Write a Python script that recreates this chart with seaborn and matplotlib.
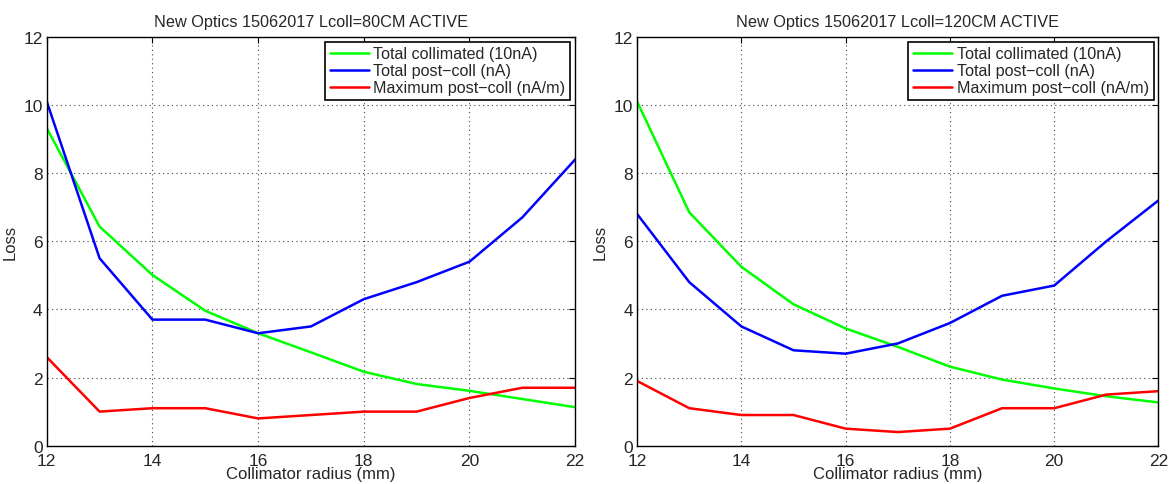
import matplotlib
matplotlib.use("Agg")
import matplotlib.pyplot as plt
import seaborn as sns
import pandas as pd

radius = [12, 13, 14, 15, 16, 17, 18, 19, 20, 21, 22]
series_names = ["Total collimated (10nA)", "Total post\u2212coll (nA)", "Maximum post\u2212coll (nA/m)"]
colors = ["#00ff00", "#0000ff", "#ff0000"]

# Lcoll = 80 cm
coll_80 = [9.32, 6.43, 5.01, 3.96, 3.30, 2.74, 2.17, 1.81, 1.61, 1.37, 1.13]
post_80 = [10.1, 5.5, 3.7, 3.7, 3.3, 3.5, 4.3, 4.8, 5.4, 6.7, 8.4]
max_80 = [2.6, 1.0, 1.1, 1.1, 0.8, 0.9, 1.0, 1.0, 1.4, 1.7, 1.7]

# Lcoll = 120 cm
coll_120 = [10.1, 6.85, 5.25, 4.15, 3.44, 2.9, 2.32, 1.94, 1.68, 1.45, 1.27]
post_120 = [6.8, 4.8, 3.5, 2.8, 2.7, 3.0, 3.6, 4.4, 4.7, 6.0, 7.2]
max_120 = [1.9, 1.1, 0.9, 0.9, 0.5, 0.4, 0.5, 1.1, 1.1, 1.5, 1.6]

titles = ["New Optics 15062017 Lcoll=80CM ACTIVE", "New Optics 15062017 Lcoll=120CM ACTIVE"]


def make_df(coll, post, mx):
    rows = []
    for name, vals in zip(series_names, [coll, post, mx]):
        for r, v in zip(radius, vals):
            rows.append({"radius": r, "loss": v, "series": name})
    return pd.DataFrame(rows)


sns.set_style("white")
plt.rcParams["font.family"] = ["Liberation Sans", "DejaVu Sans"]

fig = plt.figure(figsize=(11.69, 4.85), dpi=100)
ax1 = fig.add_axes([0.040, 0.079, 0.452, 0.843])
ax2 = fig.add_axes([0.545, 0.079, 0.446, 0.843])

datasets = [make_df(coll_80, post_80, max_80), make_df(coll_120, post_120, max_120)]

for ax, df, title in zip([ax1, ax2], datasets, titles):
    sns.lineplot(data=df, x="radius", y="loss", hue="series", hue_order=series_names,
                 palette=colors, linewidth=1.8, ax=ax)
    ax.set_xlim(12, 22)
    ax.set_ylim(0, 12)
    ax.set_xticks([12, 14, 16, 18, 20, 22])
    ax.set_yticks([0, 2, 4, 6, 8, 10, 12])
    ax.grid(True, linestyle=(0, (1, 3)), color="#444444", linewidth=0.8)
    ax.tick_params(direction="in", top=True, right=True, length=4, labelsize=12.5,
                   color="black")
    ax.tick_params(axis="x", pad=5)
    ax.tick_params(axis="y", pad=3)
    for sp in ax.spines.values():
        sp.set_color("black")
        sp.set_linewidth(1.0)
    ax.set_xlabel("Collimator radius (mm)", fontsize=12, labelpad=-1)
    ax.set_ylabel("Loss", fontsize=12, labelpad=4)
    ax.set_title(title, fontsize=11.7, pad=8)
    leg = ax.legend(loc="upper right", fontsize=11.6, frameon=True, fancybox=False,
                    edgecolor="black", handlelength=2.4, borderpad=0.3, labelspacing=0.12,
                    handletextpad=0.3, borderaxespad=0.3)
    leg.get_frame().set_linewidth(1.2)
    leg.get_frame().set_alpha(1)

fig.savefig("out.png", dpi=100)
